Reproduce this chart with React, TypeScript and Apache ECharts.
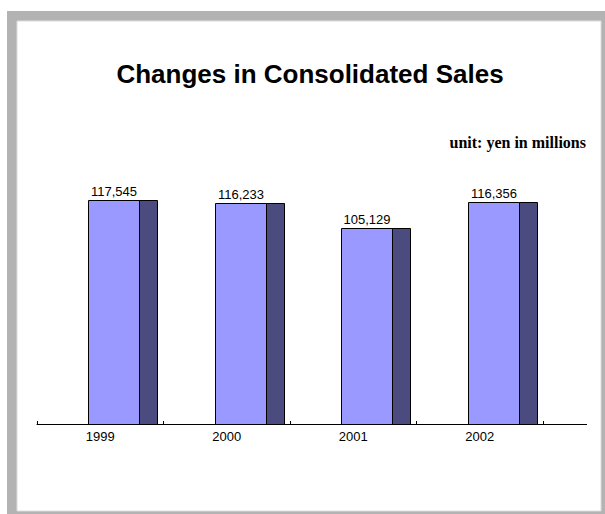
import React, { useEffect, useRef } from "react";
import * as echarts from "echarts";

const categories = ["1999", "2000", "2001", "2002"];
const sales = [117545, 116233, 105129, 116356];
const titleText = "Changes in Consolidated Sales";
const unitText = "unit: yen in millions";

const Y_MIN = 20000;
const Y_MAX = 140000;

export default function App() {
  const ref = useRef<HTMLDivElement>(null);
  useEffect(() => {
    if (!ref.current) return;
    const chart = echarts.init(ref.current, null, { renderer: "svg" });
    const sans = "'Liberation Sans', Arial, sans-serif";
    chart.setOption({
      animation: false,
      backgroundColor: "#ffffff",
      grid: { left: 37, right: 62, top: 148, bottom: 90 },
      xAxis: {
        type: "category",
        data: categories,
        boundaryGap: true,
        axisLine: { show: true, lineStyle: { color: "#000", width: 1 } },
        axisTick: { show: true, inside: true, length: 3, alignWithLabel: false, lineStyle: { color: "#000" } },
        axisLabel: { color: "#000", fontSize: 13, fontFamily: sans, margin: 6 },
        splitLine: { show: false },
      },
      yAxis: { type: "value", min: Y_MIN, max: Y_MAX, show: false, splitLine: { show: false } },
      graphic: [
        { type: "rect", z: -10, silent: true, shape: { x: 7, y: 11, width: 620, height: 520 }, style: { fill: "#b3b3b3" } },
        { type: "rect", z: -9, silent: true, shape: { x: 17, y: 21, width: 584, height: 490 }, style: { fill: "#ffffff", stroke: "#dcdcdc", lineWidth: 1 } },
        { type: "line", z: 5, silent: true, shape: { x1: 543, y1: 424.5, x2: 587, y2: 424.5 }, style: { stroke: "#000", lineWidth: 1 } },
        { type: "text", z: 5, style: { text: titleText, x: 310, y: 74, align: "center", verticalAlign: "middle", font: "bold 26px " + sans, fill: "#000" } },
        { type: "text", z: 5, style: { text: unitText, x: 586, y: 142, align: "right", verticalAlign: "middle", font: "bold 16px 'Liberation Serif', 'Times New Roman', serif", fill: "#000" } },
      ],
      series: [
        {
          type: "custom",
          data: sales.map((v, i) => [i, v]),
          renderItem: (params: any, api: any) => {
            const idx = api.value(0);
            const val = api.value(1);
            const top = api.coord([idx, val]);
            const base = api.coord([idx, Y_MIN]);
            const band = api.size([1, 0])[0];
            const fx = Math.round(top[0] - band * 0.095) + 0.5;
            const fw = Math.round(band * 0.4);
            const sw = Math.round(band * 0.14);
            const ty = Math.round(top[1]) + 0.5;
            const by = Math.round(base[1]) + 0.5;
            return {
              type: "group",
              children: [
                { type: "rect", shape: { x: fx, y: ty, width: fw, height: by - ty }, style: { fill: "#9999ff", stroke: "#000", lineWidth: 1 } },
                { type: "rect", shape: { x: fx + fw, y: ty, width: sw, height: by - ty }, style: { fill: "#4b4b80", stroke: "#000", lineWidth: 1 } },
                {
                  type: "text",
                  style: {
                    text: val.toLocaleString("en-US"),
                    x: fx + fw / 2,
                    y: ty - 3,
                    align: "center",
                    verticalAlign: "bottom",
                    font: "13px " + sans,
                    fill: "#000",
                  },
                },
              ],
            };
          },
        },
      ],
    });
    return () => chart.dispose();
  }, []);
  return <div ref={ref} style={{ position: "fixed", left: 0, top: 0, width: 605, height: 514 }} />;
}
